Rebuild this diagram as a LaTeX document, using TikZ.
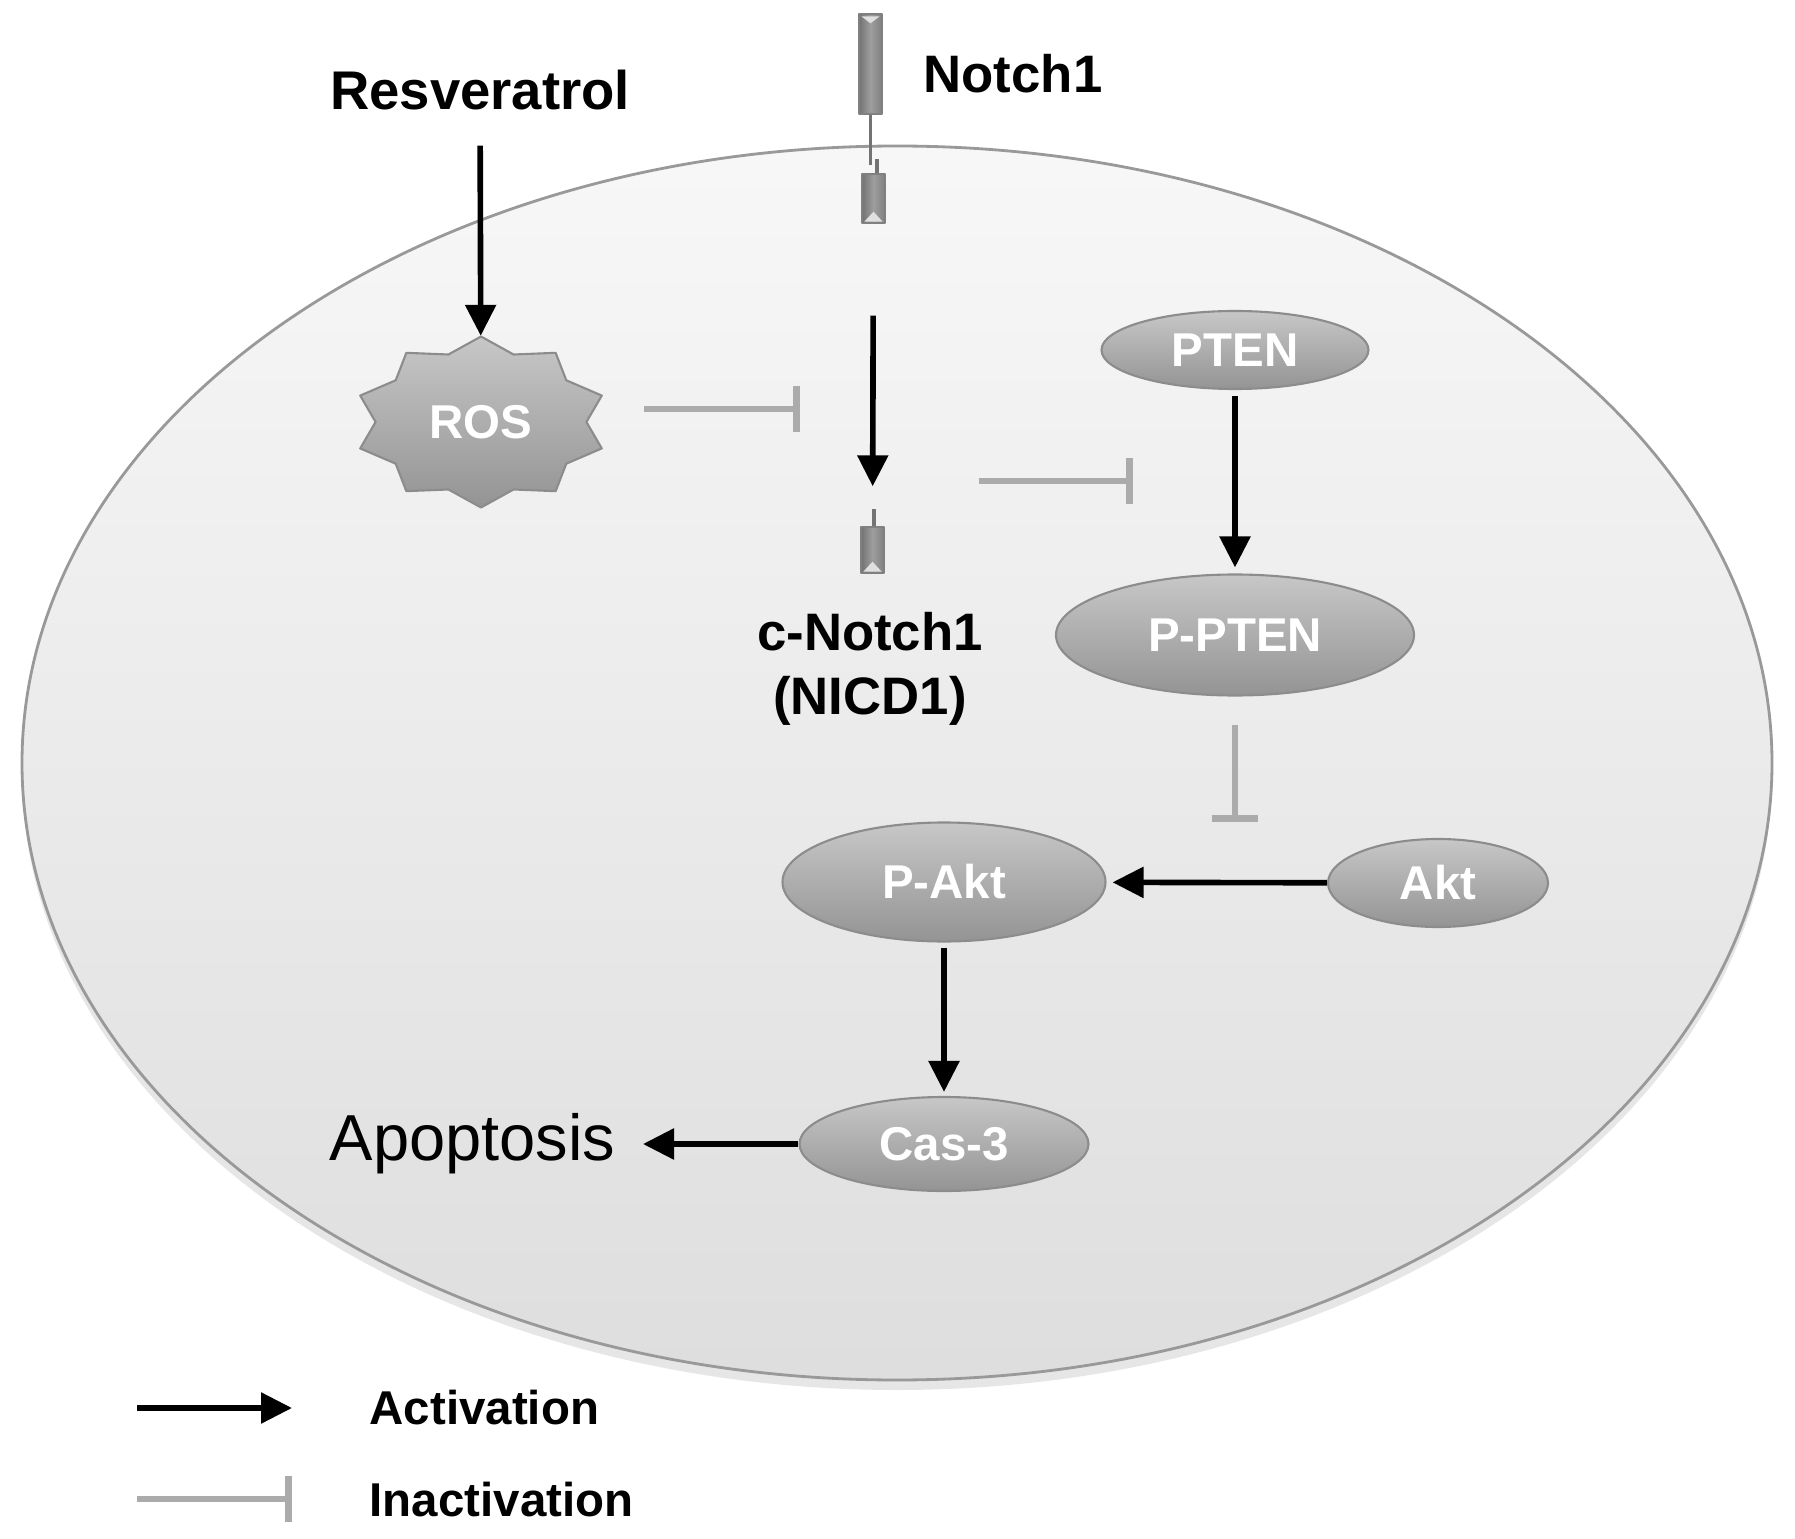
\documentclass[tikz,border=0pt]{standalone}
\usepackage{fontspec}
\setmainfont{Liberation Sans}
\usetikzlibrary{arrows.meta,shapes.geometric,shadows,positioning}
\begin{document}
\begin{tikzpicture}[line join=round, >={Triangle[length=3.1mm,width=3mm]},
	act/.style={->, line width=1.6pt, black},
	inh/.style={-{Bar[width=4.6mm]}, line width=1.9pt, black!33},
	prot/.style={ellipse, inner sep=0, draw=black!45, line width=0.6pt, top color=black!22, bottom color=black!42, text=white, font=\bfseries\fontsize{13.5}{16}\selectfont},
	lbl/.style={inner sep=0, font=\bfseries\fontsize{15}{18}\selectfont},
	piece/.style={rectangle, inner sep=0, minimum width=2.3mm, draw=black!50, line width=0.4pt, left color=black!55, right color=black!50, middle color=black!38}]
		\useasboundingbox (0,0) rectangle (17.95,-15.39);
		\draw[black!40, line width=0.8pt, top color=black!3, bottom color=black!13, drop shadow={opacity=0.2, shadow xshift=0pt, shadow yshift=-1mm}] (8.97,-7.63) ellipse (8.75 and 6.17);
		\path
		(4.81,-4.22) coordinate (R)
		(9.79,-4.81) coordinate (i2s)
		(11.33,-4.81) coordinate (i2e)
		(12.35,-8.22) coordinate (i3e)
		(1.37,-14.08) coordinate (a1)
		(2.92,-14.08) coordinate (a2)
		(1.37,-14.99) coordinate (b1)
		(2.92,-14.99) coordinate (b2);
		\node[piece, minimum height=10mm] (notch) at (8.705,-0.64) {};
		\fill[black!12] ([shift={(0.3mm,-0.3mm)}]notch.north west) -- ([shift={(-0.3mm,-0.3mm)}]notch.north east) -- ([yshift=-1mm]notch.north) -- cycle;
		\node[lbl, anchor=west] (nlab) at (9.23,-0.74) {Notch1};
		\node[piece, minimum height=4.9mm] (ntop) at (8.735,-1.985) {};
		\node[piece, minimum height=4.6mm] (nicd) at (8.725,-5.50) {};
		\draw[black!55, line width=0.7pt] (notch.south) -- ([yshift=0.8mm]notch.south |- ntop.north);
		\draw[black!55, line width=0.9pt] ([xshift=0.35mm]ntop.north) -- ++(0,1.4mm);
		\draw[black!55, line width=0.9pt] ([xshift=0.15mm]nicd.north) -- ++(0,1.7mm);
		\foreach \p in {ntop, nicd}
		\fill[black!12] ([shift={(0.3mm,0.2mm)}]\p.south west) -- ([shift={(-0.3mm,0.2mm)}]\p.south east) -- ([yshift=1.2mm]\p.south) -- cycle;
		\node[lbl, align=center] (clab) at (8.70,-6.69) {c-Notch1\\(NICD1)};
		\node[lbl, font=\bfseries\fontsize{15.5}{18}\selectfont] (resv) at (4.80,-0.90) {Resveratrol};
		\draw[black!45, line width=0.6pt, top color=black!22, bottom color=black!42, shift={(R)}]
		plot[domain=0:19, samples=20, variable=\k] ({1.27*(0.915+0.085*cos(180*\k))*cos(90+18*\k)}, {0.855*(0.915+0.085*cos(180*\k))*sin(90+18*\k)}) -- cycle;
		\node[ellipse, inner sep=0, minimum width=2.42cm, minimum height=1.71cm, text=white, font=\bfseries\fontsize{13.5}{16}\selectfont] (ros) at (R) {ROS};
		\foreach \n/\t/\x/\y/\w/\h in {pten/PTEN/12.35/-3.50/2.67/0.78, ppten/P-PTEN/12.35/-6.35/3.58/1.21, akt/Akt/14.38/-8.83/2.20/0.88, pakt/P-Akt/9.44/-8.82/3.23/1.19, cas/Cas-3/9.44/-11.44/2.89/0.94}
		\node[prot, minimum width=\w cm, minimum height=\h cm] (\n) at (\x,\y) {\t};
		\node[inner sep=0, font=\fontsize{18.5}{22}\selectfont, anchor=east] (apop) at (6.16,-11.44) {Apoptosis};
		\draw[act, shorten <=3.5mm] (resv) -- (ros);
		\draw[inh] ([shift={(4.1mm,1.3mm)}]ros.east) -- ([shift={(19.7mm,1.3mm)}]ros.east);
		\draw[act, shorten <=9.2mm, shorten >=4mm] (ntop) -- (nicd);
		\draw[inh] (i2s) -- (i2e);
		\draw[act, shorten <=0.6mm, shorten >=0.6mm] (pten) -- (ppten);
		\draw[inh, shorten <=2.8mm] (ppten) -- (ppten |- i3e);
		\draw[act, shorten >=0.6mm] (akt) -- (pakt);
		\draw[act, shorten <=0.5mm, shorten >=0.4mm] (pakt) -- (cas);
		\draw[act, shorten >=2.7mm] (cas) -- (apop);
		\draw[act] (a1) -- (a2);
		\draw[inh] (b1) -- (b2);
		\node[lbl, anchor=west, font=\bfseries\fontsize{13.5}{16}\selectfont] (actlab) at (3.69,-14.08) {Activation};
		\node[lbl, anchor=west, font=\bfseries\fontsize{13.5}{16}\selectfont] (inhlab) at (3.69,-15.00) {Inactivation};
	\end{tikzpicture}
\end{document}
